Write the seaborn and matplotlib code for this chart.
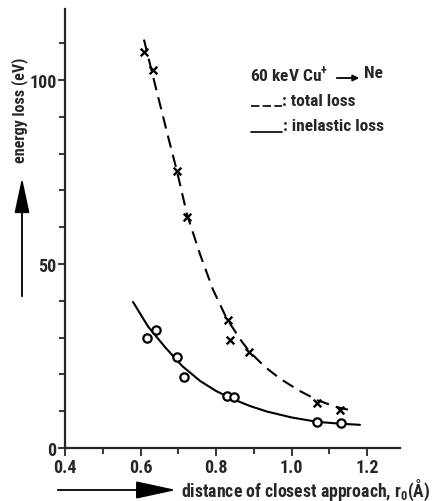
import matplotlib
matplotlib.use("Agg")
import matplotlib.pyplot as plt
import seaborn as sns
import pandas as pd
from matplotlib.lines import Line2D

# measured points
total_x = [0.609, 0.633, 0.697, 0.723, 0.832, 0.837, 0.888, 1.068, 1.128]
total_y = [107.6, 102.7, 75.3, 62.8, 34.8, 29.3, 26.1, 12.2, 10.3]
inel_x = [0.618, 0.640, 0.697, 0.715, 0.830, 0.848, 1.068, 1.131]
inel_y = [29.9, 32.1, 24.7, 19.3, 14.1, 13.9, 7.1, 6.8]

# fitted curves
total_curve_x = [0.609, 0.633, 0.672, 0.697, 0.723, 0.758, 0.792, 0.829, 0.869, 0.890,
                 0.930, 0.970, 1.020, 1.068, 1.120, 1.168]
total_curve_y = [111, 101, 85, 75, 63.5, 52.5, 43, 35, 28.8, 26,
                 22, 18.8, 15.6, 13.0, 11.1, 10]
inel_curve_x = [0.580, 0.620, 0.665, 0.710, 0.758, 0.800, 0.837, 0.890, 0.935, 1.000,
                1.068, 1.130, 1.181]
inel_curve_y = [39.7, 33, 27.4, 22.3, 18.2, 15.5, 13.6, 11.4, 9.9, 8.3,
                7.1, 6.6, 6.3]

x_ticks = [0.4, 0.6, 0.8, 1.0, 1.2]
x_tick_labels = ["0.4", "0.6", "0.8", "1.0", "1.2"]
y_ticks = [0, 50, 100]

sns.set_style("ticks")
FONT = ['Roboto Condensed', 'DejaVu Sans']
plt.rcParams['font.family'] = FONT
plt.rcParams['mathtext.fontset'] = 'custom'
plt.rcParams['mathtext.rm'] = 'Roboto Condensed'
plt.rcParams['mathtext.bf'] = 'Roboto Condensed:bold'

W, H = 433, 502
fig = plt.figure(figsize=(W / 100, H / 100), dpi=100)
ax = fig.add_axes([65 / W, 1 - 449 / H, (400 - 65) / W, (449 - 10) / H])

df_tc = pd.DataFrame({"x": total_curve_x, "y": total_curve_y})
df_ic = pd.DataFrame({"x": inel_curve_x, "y": inel_curve_y})
sns.lineplot(data=df_tc, x="x", y="y", ax=ax, color="black", lw=1.5,
             linestyle=(0, (6, 3.5)), sort=False)
sns.lineplot(data=df_ic, x="x", y="y", ax=ax, color="black", lw=1.5, sort=False)

sns.scatterplot(x=total_x, y=total_y, ax=ax, marker="x", s=30, color="black",
                linewidth=1.7, zorder=5)
sns.scatterplot(x=inel_x, y=inel_y, ax=ax, marker="o", s=36, facecolor="white",
                edgecolor="black", linewidth=1.6, zorder=5)

ax.set_xlim(0.4, 1.287)
ax.set_ylim(0, 119.3)
ax.set_xticks(x_ticks)
ax.set_xticklabels(x_tick_labels)
ax.set_xticks([0.5, 0.7, 0.9, 1.1], minor=True)
ax.set_yticks(y_ticks)
ax.set_yticks([10, 20, 30, 40, 60, 70, 80, 90, 110], minor=True)
ax.tick_params(axis="x", which="major", length=6, width=1.3, labelsize=13,
               direction="out", pad=1)
ax.tick_params(axis="y", which="major", length=5, width=1.3, labelsize=13,
               direction="out", pad=1)
ax.tick_params(axis="both", which="minor", length=4, width=1.3, direction="out")
for lab in ax.get_xticklabels() + ax.get_yticklabels():
    lab.set_fontweight("bold")
ax.set_xlabel("")
ax.set_ylabel("")
for s in ["top", "right"]:
    ax.spines[s].set_visible(False)
for s in ["left", "bottom"]:
    ax.spines[s].set_linewidth(1.6)

# in-plot legend text
tkw = dict(transform=ax.transAxes, fontsize=12.5, fontweight="bold", va="center", ha="left")
def axfrac(px, py):
    return ((px - 65) / (400 - 65), (449 - py) / (449 - 10))

x0, y0 = axfrac(250, 74)
ax.text(x0, y0, "60 keV Cu$^{\\mathbf{+}}$", **tkw)
xa1, _ = axfrac(334, 79)
xa2, ya = axfrac(362, 79)
ax.annotate("", xy=(xa2, ya), xytext=(xa1, ya), xycoords="axes fraction",
            arrowprops=dict(arrowstyle="-|>", color="black", lw=1.3, mutation_scale=9))
xn, _ = axfrac(364, 74)
ax.text(xn, y0, "Ne", **tkw)

xl1, yl1 = axfrac(251, 107)
xl2, _ = axfrac(282, 107)
ax.add_line(Line2D([xl1, xl2], [yl1, yl1], transform=ax.transAxes, color="black",
                   lw=1.2, linestyle=(0, (5, 2))))
xt, yt = axfrac(282, 101)
ax.text(xt, yt, ": total loss", **tkw)

xl1, yl2 = axfrac(251, 133)
ax.add_line(Line2D([xl1, xl2], [yl2, yl2], transform=ax.transAxes, color="black", lw=1.2))
xt, yt = axfrac(283, 127)
ax.text(xt, yt, ": inelastic loss", **tkw)

# axis labels with arrows (figure pixels)
fig.text(20 / W, 1 - 110 / H, "energy loss (eV)", rotation=90, ha="center", va="center",
         fontsize=11.5, fontweight="bold", rotation_mode="anchor")
ax.annotate("", xy=(22, H - 176), xytext=(22, H - 300), xycoords="figure pixels",
            arrowprops=dict(arrowstyle="-|>,head_length=1.55,head_width=0.33",
                            color="black", lw=1.3, mutation_scale=14))
ax.annotate("", xy=(179, H - 491), xytext=(55, H - 491), xycoords="figure pixels",
            arrowprops=dict(arrowstyle="-|>,head_length=1.8,head_width=0.39",
                            color="black", lw=1.3, mutation_scale=14))
fig.text(181 / W, 1 - 490 / H, "distance of closest approach, r$_{\\mathbf{0}}$(Å)",
         ha="left", va="center", fontsize=12.8, fontweight="bold")

fig.savefig("out.png", dpi=100)
